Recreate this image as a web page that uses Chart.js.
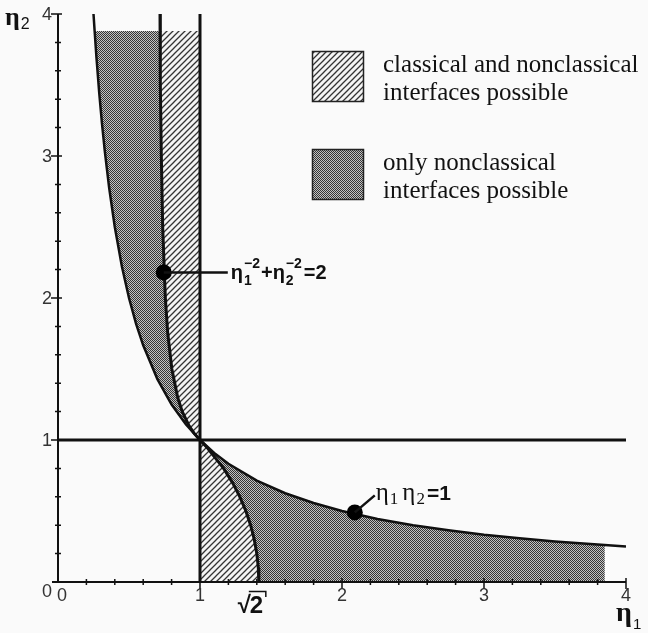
<!DOCTYPE html>
<html>
<head>
<meta charset="utf-8">
<script src="https://cdn.jsdelivr.net/npm/chart.js@4.4.1/dist/chart.umd.min.js"></script>
<style>
  html, body { margin: 0; padding: 0; background: #fafafa; }
  #wrap { width: 648px; height: 633px; }
</style>
</head>
<body>
<div id="wrap"><canvas id="chart" width="648" height="633"></canvas></div>
<script>
// axis range + ticks
const axisMin = 0, axisMax = 4;
const majorTicks = [0, 1, 2, 3, 4];
const minorStep = 0.2;

// eta1 * eta2 = 1
const hyperX = [0.25, 0.258, 0.27, 0.29, 0.31, 0.33, 0.36, 0.4, 0.45, 0.5, 0.55, 0.6, 0.7, 0.8, 0.9, 1,
                1.1, 1.2, 1.4, 1.6, 1.8, 2, 2.25, 2.5, 2.75, 3, 3.25, 3.5, 3.85, 4];
const hyperY = [4, 3.88, 3.704, 3.448, 3.226, 3.030, 2.778, 2.5, 2.222, 2, 1.818, 1.667, 1.429, 1.25, 1.111, 1,
                0.909, 0.833, 0.714, 0.625, 0.556, 0.5, 0.444, 0.4, 0.364, 0.333, 0.308, 0.286, 0.260, 0.25];

// eta1^-2 + eta2^-2 = 2, upper branch (top -> (1,1))
const upperX = [0.7184, 0.7192, 0.7220, 0.7276, 0.7372, 0.7559, 0.7730, 0.8018, 0.8427, 0.8752, 0.9231, 0.9565, 1];
const upperY = [4, 3.88, 3.5, 3, 2.5, 2, 1.75, 1.5, 1.3, 1.2, 1.1, 1.05, 1];

// lower branch, (1,1) -> (sqrt2, 0)
const lowerX = [1, 1.0476, 1.0863, 1.1662, 1.2288, 1.2806, 1.3229, 1.3565, 1.3820, 1.4, 1.4107, 1.4142];
const lowerY = [1, 0.95, 0.9, 0.8, 0.7, 0.6, 0.5, 0.4, 0.3, 0.2, 0.1, 0];

const shadeTop = 3.88;     // shaded strips stop here
const shadeRight = 3.85;

// the two marked points
const markX = [0.745, 2.09];
const markY = [2.18, 0.49];

const legendLines = [
  ['classical and nonclassical', 'interfaces possible'],
  ['only nonclassical', 'interfaces possible'],
];

const pts = (xs, ys) => xs.map((x, i) => ({ x, y: ys[i] }));
const hyper = pts(hyperX, hyperY);
const upper = pts(upperX, upperY);
const lower = pts(lowerX, lowerY);

const darkUpper = [...hyper.filter(p => p.x >= 0.258 && p.x <= 1).reverse(), ...upper.filter(p => p.y <= shadeTop)];
const hatchUpper = [...upper.filter(p => p.y <= shadeTop), { x: 1, y: shadeTop }];
const hatchLower = [{ x: 1, y: 0 }, ...lower];
const darkLower = [...hyper.filter(p => p.x >= 1 && p.x <= shadeRight), { x: shadeRight, y: 0 }, ...lower.slice().reverse()];

const canvas = document.getElementById('chart');
const ctx0 = canvas.getContext('2d');

function hatchPattern() {
  const c = document.createElement('canvas');
  c.width = c.height = 6;
  const g = c.getContext('2d');
  g.fillStyle = '#f4f4f4';
  g.fillRect(0, 0, 6, 6);
  g.strokeStyle = '#333';
  g.lineWidth = 1.3;
  g.beginPath();
  g.moveTo(-1, 7); g.lineTo(7, -1);
  g.moveTo(-1, 1); g.lineTo(1, -1);
  g.moveTo(5, 7); g.lineTo(7, 5);
  g.stroke();
  return ctx0.createPattern(c, 'repeat');
}

function dotPattern() {
  const c = document.createElement('canvas');
  c.width = c.height = 2;
  const g = c.getContext('2d');
  g.fillStyle = '#c2c2c2';
  g.fillRect(0, 0, 2, 2);
  g.fillStyle = '#353535';
  g.fillRect(0, 0, 1, 1);
  g.fillRect(1, 1, 1, 1);
  return ctx0.createPattern(c, 'repeat');
}

const hatch = hatchPattern();
const dots = dotPattern();

const area = (data, fillStyle) => ({
  data, showLine: true, fill: 'shape', backgroundColor: fillStyle,
  borderWidth: 0, pointRadius: 0, order: 10,
});
const curve = (data, w) => ({
  data, showLine: true, fill: false, borderColor: '#111', borderWidth: w,
  pointRadius: 0, order: 5,
});

// draws eta with stacked sub/superscript, returns next x
function eta(ctx, x, y, font, smallFont, sub, sup, subDy, supDy) {
  ctx.font = font;
  ctx.fillText('η', x, y);
  const w = ctx.measureText('η').width + 1;
  ctx.font = smallFont;
  let adv = 0;
  if (sub) { ctx.fillText(sub, x + w, y + subDy); adv = ctx.measureText(sub).width; }
  if (sup) { ctx.fillText(sup, x + w, y + supDy); adv = Math.max(adv, ctx.measureText(sup).width); }
  return x + w + adv + 1;
}

const decor = {
  id: 'decor',
  beforeDraw(chart) {
    const { ctx, width, height } = chart;
    ctx.save();
    ctx.fillStyle = '#fafafa';
    ctx.fillRect(0, 0, width, height);
    ctx.restore();
  },
  afterDraw(chart) {
    const { ctx, scales: { x, y } } = chart;
    const x0 = x.getPixelForValue(0), y0 = y.getPixelForValue(0);
    ctx.save();
    ctx.strokeStyle = '#111';
    ctx.fillStyle = '#111';

    // axes
    ctx.lineWidth = 2;
    ctx.beginPath();
    ctx.moveTo(x0, y.getPixelForValue(axisMax));
    ctx.lineTo(x0, y0);
    ctx.moveTo(x0 - 6, y0);
    ctx.lineTo(x.getPixelForValue(axisMax), y0);
    ctx.stroke();

    // ticks
    ctx.lineWidth = 1.5;
    ctx.beginPath();
    for (let i = 1; i <= (axisMax - axisMin) / minorStep; i++) {
      const v = axisMin + i * minorStep;
      const major = Math.abs(v - Math.round(v)) < 1e-6;
      const px = x.getPixelForValue(v), py = y.getPixelForValue(v);
      ctx.moveTo(px, y0 - (major ? 4 : 3)); ctx.lineTo(px, y0 + (major ? 7 : 3));
      ctx.moveTo(x0 - (major ? 7 : 3), py); ctx.lineTo(x0 + (major ? 4 : 3), py);
    }
    ctx.stroke();

    // tick labels
    ctx.fillStyle = '#333';
    ctx.font = "18px 'Liberation Sans'";
    ctx.textBaseline = 'top';
    ctx.textAlign = 'center';
    majorTicks.forEach(v => {
      const px = x.getPixelForValue(v) + (v === 0 ? 4 : 0);
      ctx.fillText(String(v), px, y0 + 5);
    });
    ctx.textAlign = 'right';
    ctx.textBaseline = 'middle';
    majorTicks.forEach(v => {
      const py = y.getPixelForValue(v) + (v === 0 ? 10 : 1);
      ctx.fillText(String(v), x0 - 6, py);
    });

    // sqrt2 under the x axis
    ctx.fillStyle = '#111';
    ctx.textAlign = 'left';
    ctx.textBaseline = 'alphabetic';
    const sx = x.getPixelForValue(Math.SQRT2);
    ctx.font = "bold 24px 'Liberation Sans'";
    ctx.fillText('√', sx - 21, y0 + 31);
    ctx.fillText('2', sx - 9, y0 + 31);
    ctx.lineWidth = 1.5;
    ctx.beginPath();
    ctx.moveTo(sx - 10, y0 + 9.5);
    ctx.lineTo(sx + 7, y0 + 9.5);
    ctx.lineTo(sx + 7, y0 + 15);
    ctx.stroke();

    // axis titles
    eta(ctx, 5, 25, "bold 26px 'Liberation Serif'", "16px 'Liberation Sans'", '2', null, 4, 0);
    eta(ctx, 616, 621, "bold 28px 'Liberation Serif'", "15px 'Liberation Sans'", '1', null, 8, 0);

    // legend
    const boxes = [[312, 51, hatch], [312, 149, dots]];
    boxes.forEach(([bx, by, pat], i) => {
      ctx.fillStyle = pat;
      ctx.fillRect(bx, by, 52, 51);
      ctx.lineWidth = 1.5;
      ctx.strokeStyle = '#222';
      ctx.strokeRect(bx + 0.5, by + 0.5, 51, 50);
      ctx.fillStyle = '#111';
      ctx.font = "25px 'Liberation Serif'";
      ctx.fillText(legendLines[i][0], 383, by + 21);
      ctx.fillText(legendLines[i][1], 383, by + 49);
    });

    // curve annotations
    const m = chart.getDatasetMeta(chart.data.datasets.length - 1).data;
    const a = m[0], b = m[1];
    ctx.strokeStyle = '#111';
    ctx.lineWidth = 2.5;
    ctx.beginPath();
    ctx.moveTo(a.x, a.y); ctx.lineTo(a.x + 64, a.y);
    ctx.moveTo(b.x, b.y); ctx.lineTo(b.x + 20, b.y - 17);
    ctx.stroke();

    ctx.fillStyle = '#111';
    const big = "bold 20px 'Liberation Sans'", small = "bold 14px 'Liberation Sans'";
    let tx = a.x + 67, ty = a.y + 7;
    tx = eta(ctx, tx, ty, big, small, '1', '−2', 6, -11);
    ctx.font = big; ctx.fillText('+', tx, ty); tx += ctx.measureText('+').width;
    tx = eta(ctx, tx, ty, big, small, '2', '−2', 6, -11);
    ctx.font = big; ctx.fillText('=2', tx + 1, ty);

    const serif = "25px 'Liberation Serif'", serifSmall = "17px 'Liberation Serif'";
    tx = b.x + 21; ty = b.y - 12;
    tx = eta(ctx, tx, ty, serif, serifSmall, '1', null, 4, 0);
    tx = eta(ctx, tx + 3, ty, serif, serifSmall, '2', null, 4, 0);
    ctx.font = "bold 21px 'Liberation Sans'"; ctx.fillText('=1', tx + 1, ty);

    ctx.restore();
  }
};

new Chart(canvas, {
  type: 'scatter',
  data: {
    datasets: [
      area(darkUpper, dots),
      area(darkLower, dots),
      area(hatchUpper, hatch),
      area(hatchLower, hatch),
      curve(hyper, 2.5),
      curve([...upper, ...lower.slice(1)], 3),
      curve([{ x: 1, y: 0 }, { x: 1, y: axisMax }], 3),
      curve([{ x: axisMin, y: 1 }, { x: axisMax, y: 1 }], 3),
      { data: pts(markX, markY), pointRadius: 8, pointBackgroundColor: '#000', pointBorderWidth: 0, order: 1 },
    ],
  },
  options: {
    responsive: false,
    animation: false,
    devicePixelRatio: 1,
    layout: { padding: { left: 58, top: 14, right: 22, bottom: 51 } },
    scales: {
      x: { type: 'linear', min: axisMin, max: axisMax, display: false },
      y: { type: 'linear', min: axisMin, max: axisMax, display: false },
    },
    plugins: { legend: { display: false }, tooltip: { enabled: false } },
  },
  plugins: [decor],
});
</script>
</body>
</html>
